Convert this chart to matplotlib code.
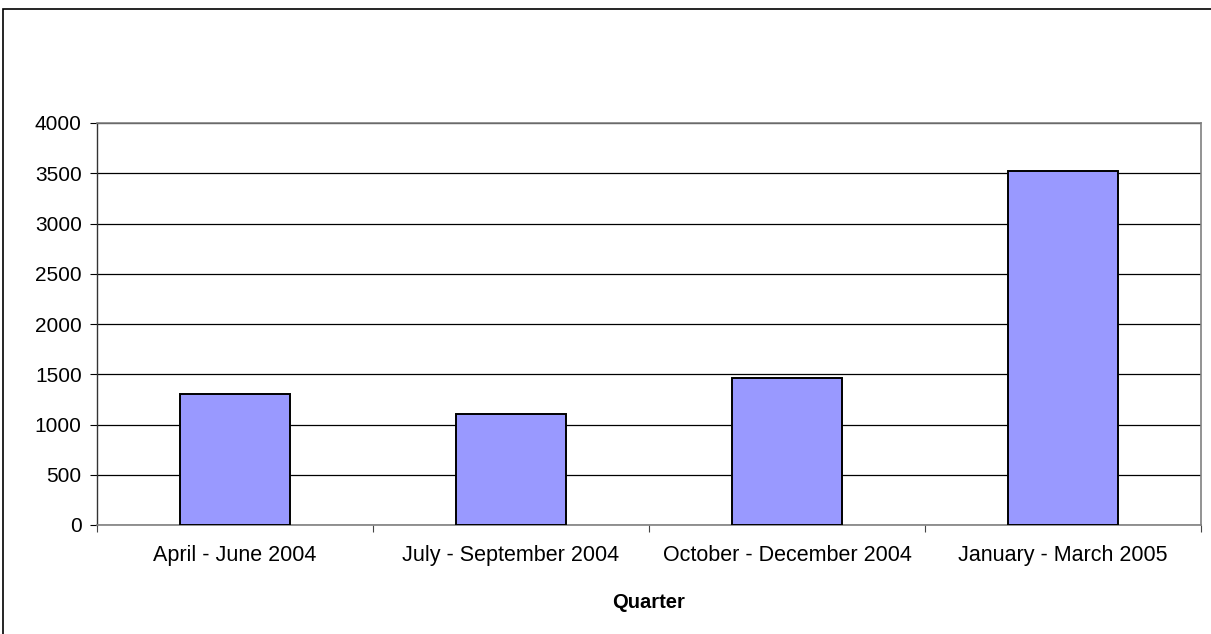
import matplotlib
matplotlib.use("Agg")
import matplotlib.pyplot as plt
from matplotlib.patches import Rectangle
import numpy as np

plt.rcParams['font.family'] = ['Liberation Sans', 'DejaVu Sans']

categories = ["April - June 2004", "July - September 2004",
              "October - December 2004", "January - March 2005"]
values = [1300, 1100, 1460, 3520]
y_ticks = [0, 500, 1000, 1500, 2000, 2500, 3000, 3500, 4000]
x_label = "Quarter"

W, H = 1211, 634
fig = plt.figure(figsize=(W / 100, H / 100), dpi=100)

# outer chart border
fig.patches.append(Rectangle((3 / W, -0.1), 1.2, 1 - 9 / H + 0.1,
                             transform=fig.transFigure, fill=False,
                             edgecolor="black", linewidth=1.2))

ax = fig.add_axes([97 / W, 1 - 525 / H, (1201 - 97) / W, (525 - 123) / H])
x = np.arange(len(categories))
ax.bar(x, values, width=0.4, color="#9999ff", edgecolor="black",
       linewidth=1.4, zorder=3)

ax.set_xlim(-0.5, len(categories) - 0.5)
ax.set_ylim(0, 4000)
ax.set_yticks(y_ticks)
ax.set_yticklabels([str(v) for v in y_ticks], fontsize=15)
ax.yaxis.grid(True, color="black", linewidth=0.9, zorder=0)
ax.set_axisbelow(True)

ax.set_xticks(x)
ax.set_xticklabels(categories, fontsize=15.5)
ax.set_xticks(np.arange(-0.5, len(categories)), minor=True)
ax.tick_params(axis="x", which="major", length=0, pad=14.5)
ax.tick_params(axis="x", which="minor", length=5, color="#444444", width=0.8)
ax.tick_params(axis="y", length=5, width=0.8, pad=6)

for s in ["top", "right"]:
    ax.spines[s].set_color("#808080")
    ax.spines[s].set_linewidth(1.2)
ax.spines["bottom"].set_color("#808080")
ax.spines["bottom"].set_linewidth(1.2)
ax.spines["left"].set_color("#333333")
ax.spines["left"].set_linewidth(1.0)

ax.set_xlabel(x_label, fontsize=14.5, fontweight="bold", labelpad=19)

fig.savefig("out.png", dpi=100)
